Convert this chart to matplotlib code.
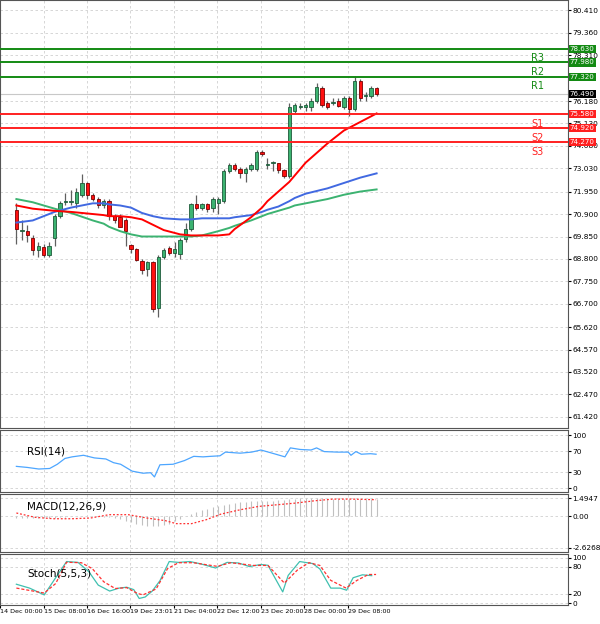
import numpy as np
import matplotlib.pyplot as plt

# candles
opens = [71.1, 70.1, 70.1, 69.8, 69.2, 69.35, 69.0, 69.8, 70.8, 71.45, 71.45, 71.4, 71.8, 72.35, 71.8, 71.6,
         71.3, 71.5, 70.8, 70.75, 70.6, 69.45, 69.25, 68.7, 68.35, 68.65, 66.5, 68.9, 69.3, 69.1, 69.05, 69.75,
         70.2, 71.35, 71.2, 71.35, 71.2, 71.4, 71.5, 72.9, 73.2, 73.0, 72.8, 73.0, 73.0, 73.8, 73.2, 73.3,
         73.3, 72.95, 72.7, 75.7, 75.9, 75.9, 75.9, 76.2, 76.8, 76.1, 76.1, 76.2, 75.9, 76.3, 75.8, 77.1,
         76.4, 76.4, 76.8]
highs = [71.4, 70.6, 70.4, 69.9, 69.6, 69.5, 69.6, 70.9, 71.5, 71.9, 72.0, 72.1, 72.75, 72.4, 71.9, 71.7,
         71.6, 71.6, 70.9, 70.9, 70.7, 69.5, 69.3, 68.8, 68.7, 68.7, 69.0, 69.3, 69.4, 69.6, 69.8, 70.5,
         71.4, 71.8, 71.4, 71.4, 71.7, 71.7, 73.0, 73.3, 73.3, 73.1, 73.1, 73.3, 73.9, 73.9, 73.5, 73.4,
         73.3, 73.0, 76.1, 76.1, 76.1, 76.1, 76.3, 77.0, 76.9, 76.2, 76.3, 76.3, 76.4, 76.4, 77.35, 77.2,
         76.6, 76.9, 76.85]
lows = [69.5, 69.7, 69.6, 69.0, 68.9, 68.9, 68.9, 69.4, 70.7, 71.3, 71.3, 71.2, 71.7, 71.6, 71.5, 71.2,
        71.2, 70.6, 70.5, 70.3, 69.4, 69.1, 68.7, 68.1, 68.0, 66.3, 66.1, 68.8, 69.0, 68.9, 68.8, 69.6,
        70.1, 71.1, 71.1, 71.0, 71.0, 70.9, 71.4, 72.8, 72.9, 72.6, 72.4, 72.9, 72.9, 73.6, 73.0, 72.9,
        72.8, 72.6, 72.6, 75.6, 75.8, 75.7, 75.7, 76.1, 75.9, 75.8, 76.0, 75.9, 75.8, 75.5, 75.7, 76.2,
        76.2, 76.3, 76.4]
closes = [70.2, 70.1, 69.9, 69.2, 69.4, 69.0, 69.4, 70.8, 71.4, 71.5, 71.5, 71.95, 72.35, 71.8, 71.6, 71.3,
          71.5, 70.8, 70.6, 70.3, 70.1, 69.25, 68.75, 68.3, 68.65, 66.45, 68.9, 69.2, 69.1, 69.25, 69.7, 70.2,
          71.35, 71.2, 71.35, 71.15, 71.6, 71.6, 72.9, 73.2, 73.0, 72.8, 73.0, 73.2, 73.8, 73.7, 73.2, 73.3,
          72.95, 72.7, 75.9, 76.0, 75.9, 76.0, 76.2, 76.85, 76.0, 75.9, 76.1, 75.95, 76.3, 75.8, 77.1, 76.3,
          76.4, 76.8, 76.49]

# moving averages, sampled at candle index
ma_x = [0, 3, 7, 10, 14, 16, 17, 19, 21, 23, 25, 27, 30, 32, 34, 37, 39, 40, 43, 45, 46, 48, 50, 51, 53, 57, 60, 63, 66]
ma_red = [71.3, 71.15, 71.05, 71.0, 70.9, 70.85, 70.8, 70.8, 70.75, 70.65, 70.4, 70.15, 69.95, 69.9, 69.9,
          69.9, 69.95, 70.2, 70.75, 71.2, 71.5, 71.95, 72.4, 72.7, 73.3, 74.2, 74.8, 75.2, 75.6]
ma_blue = [70.5, 70.6, 71.0, 71.2, 71.4, 71.4, 71.35, 71.3, 71.2, 70.95, 70.8, 70.7, 70.65, 70.65, 70.7,
           70.7, 70.7, 70.75, 70.85, 71.0, 71.1, 71.25, 71.5, 71.65, 71.85, 72.1, 72.35, 72.6, 72.8]
ma_green = [71.6, 71.45, 71.15, 70.95, 70.6, 70.45, 70.3, 70.1, 69.95, 69.85, 69.85, 69.85, 69.85, 69.85,
            69.9, 70.1, 70.25, 70.35, 70.6, 70.8, 70.9, 71.05, 71.2, 71.3, 71.4, 71.6, 71.8, 71.95, 72.05]

levels = [78.63, 77.98, 77.32, 75.58, 74.92, 74.27]
level_names = ["R3", "R2", "R1", "S1", "S2", "S3"]
last_price = 76.49
price_ticks = [80.41, 79.36, 78.31, 76.18, 75.13, 74.08, 73.03, 71.95, 70.9, 69.85, 68.8, 67.75, 66.7,
               65.62, 64.57, 63.52, 62.47, 61.42]

rsi_x = [0.0, 2.0, 4.1, 6.1, 7.5, 8.9, 10.2, 12.3, 14.3, 16.4, 17.8, 19.1, 21.2, 23.2, 24.6, 25.3, 26.3,
         28.7, 30.8, 32.5, 34.2, 35.6, 37.3, 38.3, 41.0, 43.1, 44.8, 47.2, 49.2, 50.2, 52.0, 54.0, 55.0, 56.4,
         58.8, 60.8, 61.3, 62.2, 63.2, 64.9, 65.9]
rsi = [41, 39, 36, 37, 45, 56, 59, 62, 57, 55, 48, 45, 32, 28, 29, 21, 44, 45, 52, 60, 59, 60, 61, 68, 66,
       68, 72, 65, 59, 76, 73, 72, 76, 69, 68, 68, 62, 69, 64, 65, 64]

macd_x = list(range(0, 67))
macd_hist = [-0.14, -0.15, -0.16, -0.16, -0.16, -0.15, -0.13, -0.1, -0.06, -0.03, 0.0, 0.02, 0.03, 0.03,
             0.02, 0.0, -0.03, -0.08, -0.15, -0.25, -0.35, -0.48, -0.6, -0.7, -0.78, -0.8, -0.8, -0.75,
             -0.62, -0.42, -0.2, 0.0, 0.18, 0.35, 0.5, 0.62, 0.75, 0.85, 0.95, 1.05, 1.12, 1.18, 1.22, 1.25,
             1.26, 1.26, 1.27, 1.3, 1.33, 1.38, 1.42, 1.47, 1.5, 1.5, 1.5, 1.5, 1.5, 1.49, 1.49, 1.48, 1.47,
             1.46, 1.45, 1.44, 1.43, 1.42, 1.42]
sig_x = [0.0, 3.4, 6.8, 10.2, 13.6, 17.0, 20.5, 23.9, 27.3, 29.3, 32.1, 34.8, 37.5, 41.0, 44.4, 47.8, 51.2,
         54.6, 58.0, 61.4, 65.9]
macd_sig = [0.28, -0.08, -0.2, -0.2, -0.14, 0.14, 0.14, -0.14, -0.36, -0.61, -0.61, -0.28, 0.19, 0.55,
            0.83, 0.97, 1.11, 1.3, 1.44, 1.44, 1.39]

st_x = [0.0, 2.4, 5.1, 7.2, 9.2, 11.3, 13.3, 15.0, 17.1, 18.8, 20.2, 21.5, 22.5, 23.6, 24.9, 26.3, 28.0,
        29.7, 31.8, 33.8, 36.5, 38.6, 40.7, 42.7, 44.8, 46.1, 48.8, 49.8, 51.9, 54.3, 55.6, 57.6, 59.3, 60.5,
        61.7, 63.4, 65.1]
stoch_k = [41.5, 33.0, 18.0, 55.8, 91.6, 89.7, 68.8, 39.5, 26.4, 32.9, 34.9, 29.6, 10.1, 13.3, 26.4,
           49.2, 91.6, 89.7, 91.6, 86.4, 77.3, 89.7, 88.4, 80.5, 85.1, 83.2, 24.5, 61.0, 91.6, 87.1, 75.3,
           32.9, 32.9, 28.3, 55.8, 62.3, 60.4]
sd_x = [0.0, 5.1, 7.2, 9.2, 11.9, 13.9, 16.0, 18.1, 20.2, 22.2, 23.2, 25.6, 27.7, 29.7, 32.4, 36.8, 39.3,
        43.4, 46.1, 49.1, 51.5, 53.6, 55.6, 57.6, 60.4, 62.4, 64.5, 65.9]
stoch_d = [33, 22, 43, 90, 89, 76, 47, 32, 34, 21, 18, 31, 76, 89, 89, 81, 89, 83, 83, 44, 73, 89, 83, 50,
           33, 50, 63, 63]

xtick_pos = [-3.0, 5.0, 13.0, 20.9, 28.8, 36.8, 44.8, 52.7, 60.7]
xtick_lab = ["14 Dec 00:00", "15 Dec 08:00", "16 Dec 16:00", "19 Dec 23:01", "21 Dec 04:00",
             "22 Dec 12:00", "23 Dec 20:00", "28 Dec 00:00", "29 Dec 08:00"]

fig = plt.figure(figsize=(6, 6.24), dpi=100)
XL = (-0.4, 101.1)
grid_kw = dict(color="#d0d0d0", linestyle=(0, (3, 3)), linewidth=0.6)


def style(ax):
    ax.set_xlim(*XL)
    ax.yaxis.tick_right()
    ax.tick_params(axis="y", labelsize=5.3, length=2, pad=1)
    ax.tick_params(axis="x", length=0, labelbottom=False)
    ax.set_xticks(xtick_pos)
    ax.grid(True, **grid_kw)
    for s in ax.spines.values():
        s.set_color("#555555")
        s.set_linewidth(0.8)


# main panel
ax = fig.add_axes([0, 0.314, 0.947, 0.686])
style(ax)
ax.set_ylim(60.9, 80.9)
ax.set_yticks(price_ticks)
ax.set_yticklabels([f"{v:.3f}" for v in price_ticks])
idx = np.arange(len(closes))
for i in idx:
    up = closes[i] >= opens[i]
    ax.vlines(i, lows[i], highs[i], color="#606060", lw=0.9, zorder=2)
    lo, hi = min(opens[i], closes[i]), max(opens[i], closes[i])
    ax.bar(i, max(hi - lo, 0.04), bottom=lo, width=0.62,
           color="#3cb371" if up else "#ff1010", edgecolor="#1e5a3a" if up else "#7a0000",
           linewidth=0.6, zorder=3)
ax.plot(ma_x, ma_green, color="#3cb371", lw=1.4, zorder=4)
ax.plot(ma_x, ma_blue, color="#4169e1", lw=1.4, zorder=4)
ax.plot(ma_x, ma_red, color="#ff0000", lw=1.4, zorder=4)
for lv, nm in zip(levels, level_names):
    c = "#138a13" if nm[0] == "R" else "#ff2020"
    ax.axhline(lv, color=c, lw=1.4, zorder=5)
    ax.text(95.5, lv - 0.22, nm, color=c, fontsize=7, ha="center", va="top")
    ax.text(1.003, lv, f"{lv:.3f}", transform=ax.get_yaxis_transform(), fontsize=5.1, color="white",
            va="center", ha="left", zorder=10,
            bbox=dict(boxstyle="square,pad=0.15", fc=c, ec="none"))
ax.axhline(last_price, color="#c8c8c8", lw=0.8, zorder=1)
ax.text(1.003, last_price, f"{last_price:.3f}", transform=ax.get_yaxis_transform(), fontsize=5.1,
        color="white", va="center", ha="left", zorder=10,
        bbox=dict(boxstyle="square,pad=0.15", fc="black", ec="none"))

# RSI
ax2 = fig.add_axes([0, 0.212, 0.947, 0.099])
style(ax2)
ax2.set_ylim(-7, 110)
ax2.set_yticks([0, 30, 70, 100])
ax2.plot(rsi_x, rsi, color="#4da6ff", lw=0.9)
ax2.text(2, 70, "RSI(14)", fontsize=7.5, va="center")

# MACD
ax3 = fig.add_axes([0, 0.115, 0.947, 0.093])
style(ax3)
ax3.set_ylim(-3.0, 1.85)
ax3.set_yticks([1.4947, 0, -2.6268])
ax3.set_yticklabels(["1.4947", "0.00", "-2.6268"])
ax3.vlines(macd_x, 0, macd_hist, color="#c0c0c0", lw=0.8)
ax3.plot(sig_x, macd_sig, color="#ff3030", lw=0.9, linestyle=(0, (1.5, 1.5)))
ax3.text(2, 0.8, "MACD(12,26,9)", fontsize=7.5, va="center")

# Stoch
ax4 = fig.add_axes([0, 0.030, 0.947, 0.082])
style(ax4)
ax4.set_ylim(-5, 108)
ax4.set_yticks([0, 20, 80, 100])
ax4.plot(st_x, stoch_k, color="#40c0b0", lw=0.9)
ax4.plot(sd_x, stoch_d, color="#ff3030", lw=0.9, linestyle=(0, (2.5, 1.5)))
ax4.text(2, 65, "Stoch(5,5,3)", fontsize=7.5, va="center")
ax4.tick_params(axis="x", length=2, labelbottom=True, labelsize=4.6, pad=1)
ax4.set_xticklabels(xtick_lab, ha="left")

fig.savefig("out.png", dpi=100)
